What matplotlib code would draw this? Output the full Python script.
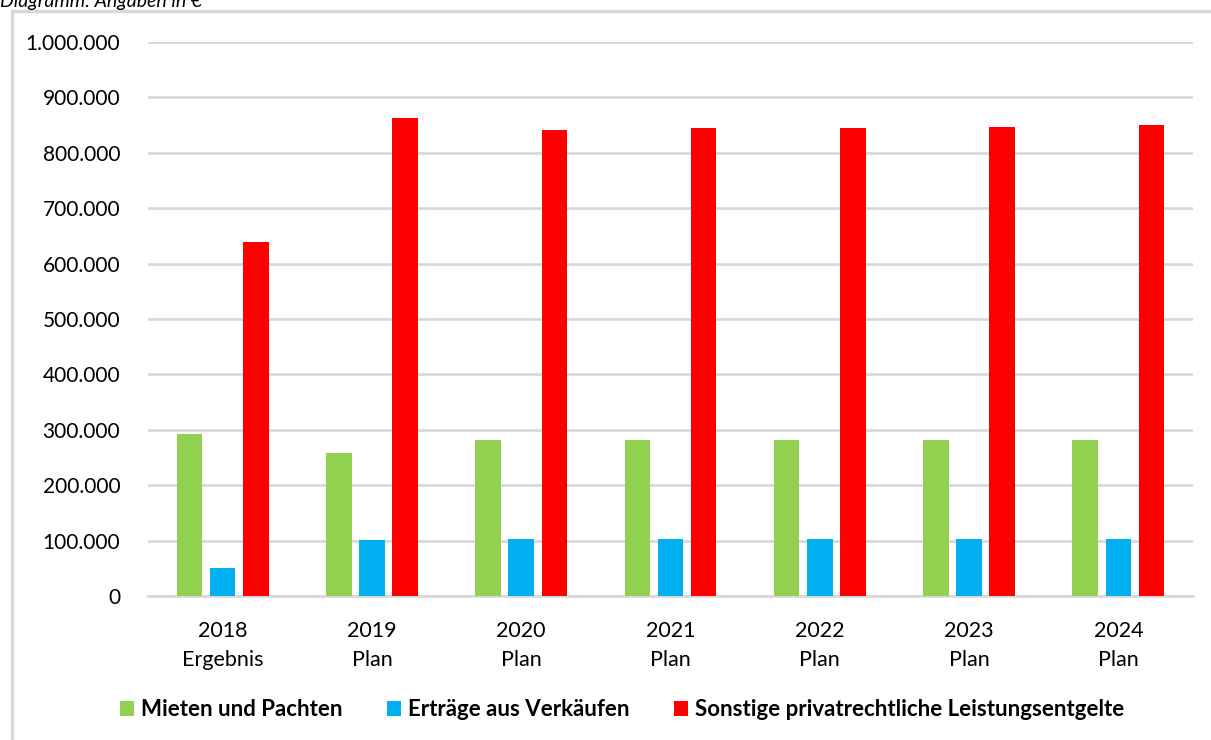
import numpy as np
import matplotlib.pyplot as plt
from matplotlib.patches import Rectangle
from matplotlib.ticker import FuncFormatter

plt.rcParams['font.family'] = ['Lato', 'DejaVu Sans']

years = ['2018', '2019', '2020', '2021', '2022', '2023', '2024']
kinds = ['Ergebnis', 'Plan', 'Plan', 'Plan', 'Plan', 'Plan', 'Plan']
mieten = [292000, 258000, 281000, 281000, 281000, 281000, 281000]
verkaeufe = [50000, 101000, 103000, 103000, 103000, 103000, 103000]
sonstige = [639000, 862000, 842000, 844000, 844000, 846000, 850000]

series = [
    ("Mieten und Pachten", mieten, "#92D050"),
    ("Erträge aus Verkäufen", verkaeufe, "#00B0F0"),
    ("Sonstige privatrechtliche Leistungsentgelte", sonstige, "#FF0000"),
]

fig = plt.figure(figsize=(12.11, 7.40), dpi=100)
# outer chart frame
fig.patches.append(Rectangle((12 / 1211, -0.05), 1.1, 0.05 + (740 - 11) / 740,
                             transform=fig.transFigure, fill=False,
                             edgecolor="#D9D9D9", linewidth=2.5))
fig.text(0.0, 1 - 2 / 740, "Diagramm: Angaben in €", fontsize=14, style="italic",
         ha="left", va="center")

ax = fig.add_axes([148 / 1211, 1 - 596 / 740, (1193 - 148) / 1211, (596 - 42) / 740])
x = np.arange(len(years))
w = 0.172
step = 0.222
for i, (name, vals, col) in enumerate(series):
    ax.bar(x + (i - 1) * step, vals, width=w, color=col, label=name, zorder=3)

ax.set_xlim(-0.5, len(years) - 0.5)
ax.set_ylim(0, 1000000)
ax.set_yticks(np.arange(0, 1000001, 100000))
ax.yaxis.set_major_formatter(FuncFormatter(lambda v, p: f"{int(v):,}".replace(",", ".")))
ax.set_xticks(x)
ax.set_xticklabels([f"{y}\n{k}" for y, k in zip(years, kinds)], fontsize=15.5,
                   linespacing=1.55)
ax.tick_params(axis='y', labelsize=15, length=0, pad=20, colors="#000000")
ax.tick_params(axis='x', length=0, pad=18)
ax.grid(axis='y', color="#D9D9D9", linewidth=2, zorder=0)
for s in ['top', 'right', 'left']:
    ax.spines[s].set_visible(False)
ax.spines['bottom'].set_color("#D9D9D9")
ax.spines['bottom'].set_linewidth(2)

leg = fig.legend(loc='center', bbox_to_anchor=(622 / 1211, 1 - 710 / 740), ncol=3,
                 frameon=False, prop={'weight': 'bold', 'size': 16},
                 handlelength=0.65, handleheight=0.65, handletextpad=0.3,
                 columnspacing=2.0)

fig.savefig("out.png", dpi=100)
